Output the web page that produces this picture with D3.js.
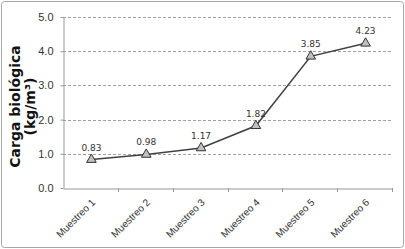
<!DOCTYPE html>
<html>
<head>
<meta charset="utf-8">
<script src="https://cdn.jsdelivr.net/npm/d3@7"></script>
<style>
  body { margin: 0; background: #fff; }
  svg { display: block; font-family: "DejaVu Sans", Verdana, sans-serif; }
</style>
</head>
<body>
<svg id="chart" width="405" height="249"></svg>
<script>
var categories = ["Muestreo 1", "Muestreo 2", "Muestreo 3", "Muestreo 4", "Muestreo 5", "Muestreo 6"];
var values = [0.83, 0.98, 1.17, 1.82, 3.85, 4.23];
var yTicks = [0, 1, 2, 3, 4, 5];

var data = categories.map(function(c, i) { return { cat: c, val: values[i] }; });

var margin = {top: 17, right: 13, bottom: 61, left: 63};
var W = 405, H = 249;

var svg = d3.select('#chart');

// outer frame
svg.append('rect')
  .attr('x', 1.5).attr('y', 1.5)
  .attr('width', W - 3).attr('height', H - 3)
  .attr('rx', 3)
  .attr('fill', 'none')
  .attr('stroke', '#a6a6a6');

var x = d3.scaleBand()
  .domain(categories)
  .range([margin.left, W - margin.right]);

var y = d3.scaleLinear()
  .domain([0, 5])
  .range([H - margin.bottom, margin.top]);

// gridlines
svg.append('g')
  .selectAll('line')
  .data(yTicks.filter(function(t) { return t > 0; }))
  .join('line')
    .attr('x1', margin.left).attr('x2', W - margin.right)
    .attr('y1', function(d) { return Math.round(y(d)) + 0.5; })
    .attr('y2', function(d) { return Math.round(y(d)) + 0.5; })
    .attr('stroke', '#a0a0a0')
    .attr('stroke-dasharray', '3,2');

// y axis
var yAxis = svg.append('g')
  .attr('transform', 'translate(' + (margin.left + 0.5) + ',0)')
  .call(d3.axisLeft(y).tickValues(yTicks).tickFormat(d3.format('.1f')).tickSize(3).tickSizeOuter(0));
yAxis.select('.domain').attr('stroke', '#999');
yAxis.selectAll('.tick line').attr('stroke', '#999');
yAxis.selectAll('text').attr('font-size', 11).attr('fill', '#333').attr('x', -10);

// x axis
var xAxis = svg.append('g')
  .attr('transform', 'translate(0,' + (Math.round(y(0)) + 0.5) + ')')
  .call(d3.axisBottom(x).tickSize(0).tickSizeOuter(0));
xAxis.select('.domain').attr('stroke', '#999');
xAxis.selectAll('text')
  .attr('font-size', 10)
  .attr('fill', '#333')
  .attr('text-anchor', 'end')
  .attr('transform', 'translate(3,12) rotate(-45)')
  .attr('y', 0).attr('dy', '0.35em');

// category boundary ticks
svg.append('g')
  .selectAll('line')
  .data(categories)
  .join('line')
    .attr('x1', function(d) { return Math.round(x(d) + x.bandwidth()) + 0.5; })
    .attr('x2', function(d) { return Math.round(x(d) + x.bandwidth()) + 0.5; })
    .attr('y1', y(0)).attr('y2', y(0) + 4)
    .attr('stroke', '#999');

// y label
svg.append('text')
  .attr('transform', 'translate(20,' + ((margin.top + y(0)) / 2 + 4) + ') rotate(-90)')
  .attr('text-anchor', 'middle')
  .attr('font-size', 14)
  .attr('font-weight', 'bold')
  .attr('fill', '#111')
  .call(function(t) {
    t.append('tspan').attr('x', 0).attr('dy', '0em').text('Carga biológica');
    t.append('tspan').attr('x', 0).attr('dy', '1.1em').text('(kg/m³)');
  });

var cx = function(d) { return x(d.cat) + x.bandwidth() / 2 + 1; };

// line
svg.append('path')
  .datum(data)
  .attr('fill', 'none')
  .attr('stroke', '#404040')
  .attr('stroke-width', 1.5)
  .attr('d', d3.line().x(cx).y(function(d) { return y(d.val); }));

// markers
svg.append('g')
  .selectAll('path')
  .data(data)
  .join('path')
    .attr('transform', function(d) { return 'translate(' + cx(d) + ',' + y(d.val) + ')'; })
    .attr('d', d3.symbol().type(d3.symbolTriangle).size(40))
    .attr('fill', '#c0c0c0')
    .attr('stroke', '#333')
    .attr('stroke-width', 1);

// value labels
svg.append('g')
  .selectAll('text')
  .data(data)
  .join('text')
    .attr('x', cx)
    .attr('y', function(d) { return y(d.val) - 9; })
    .attr('text-anchor', 'middle')
    .attr('font-size', 9)
    .attr('fill', '#333')
    .text(function(d) { return d.val.toFixed(2); });
</script>
</body>
</html>
